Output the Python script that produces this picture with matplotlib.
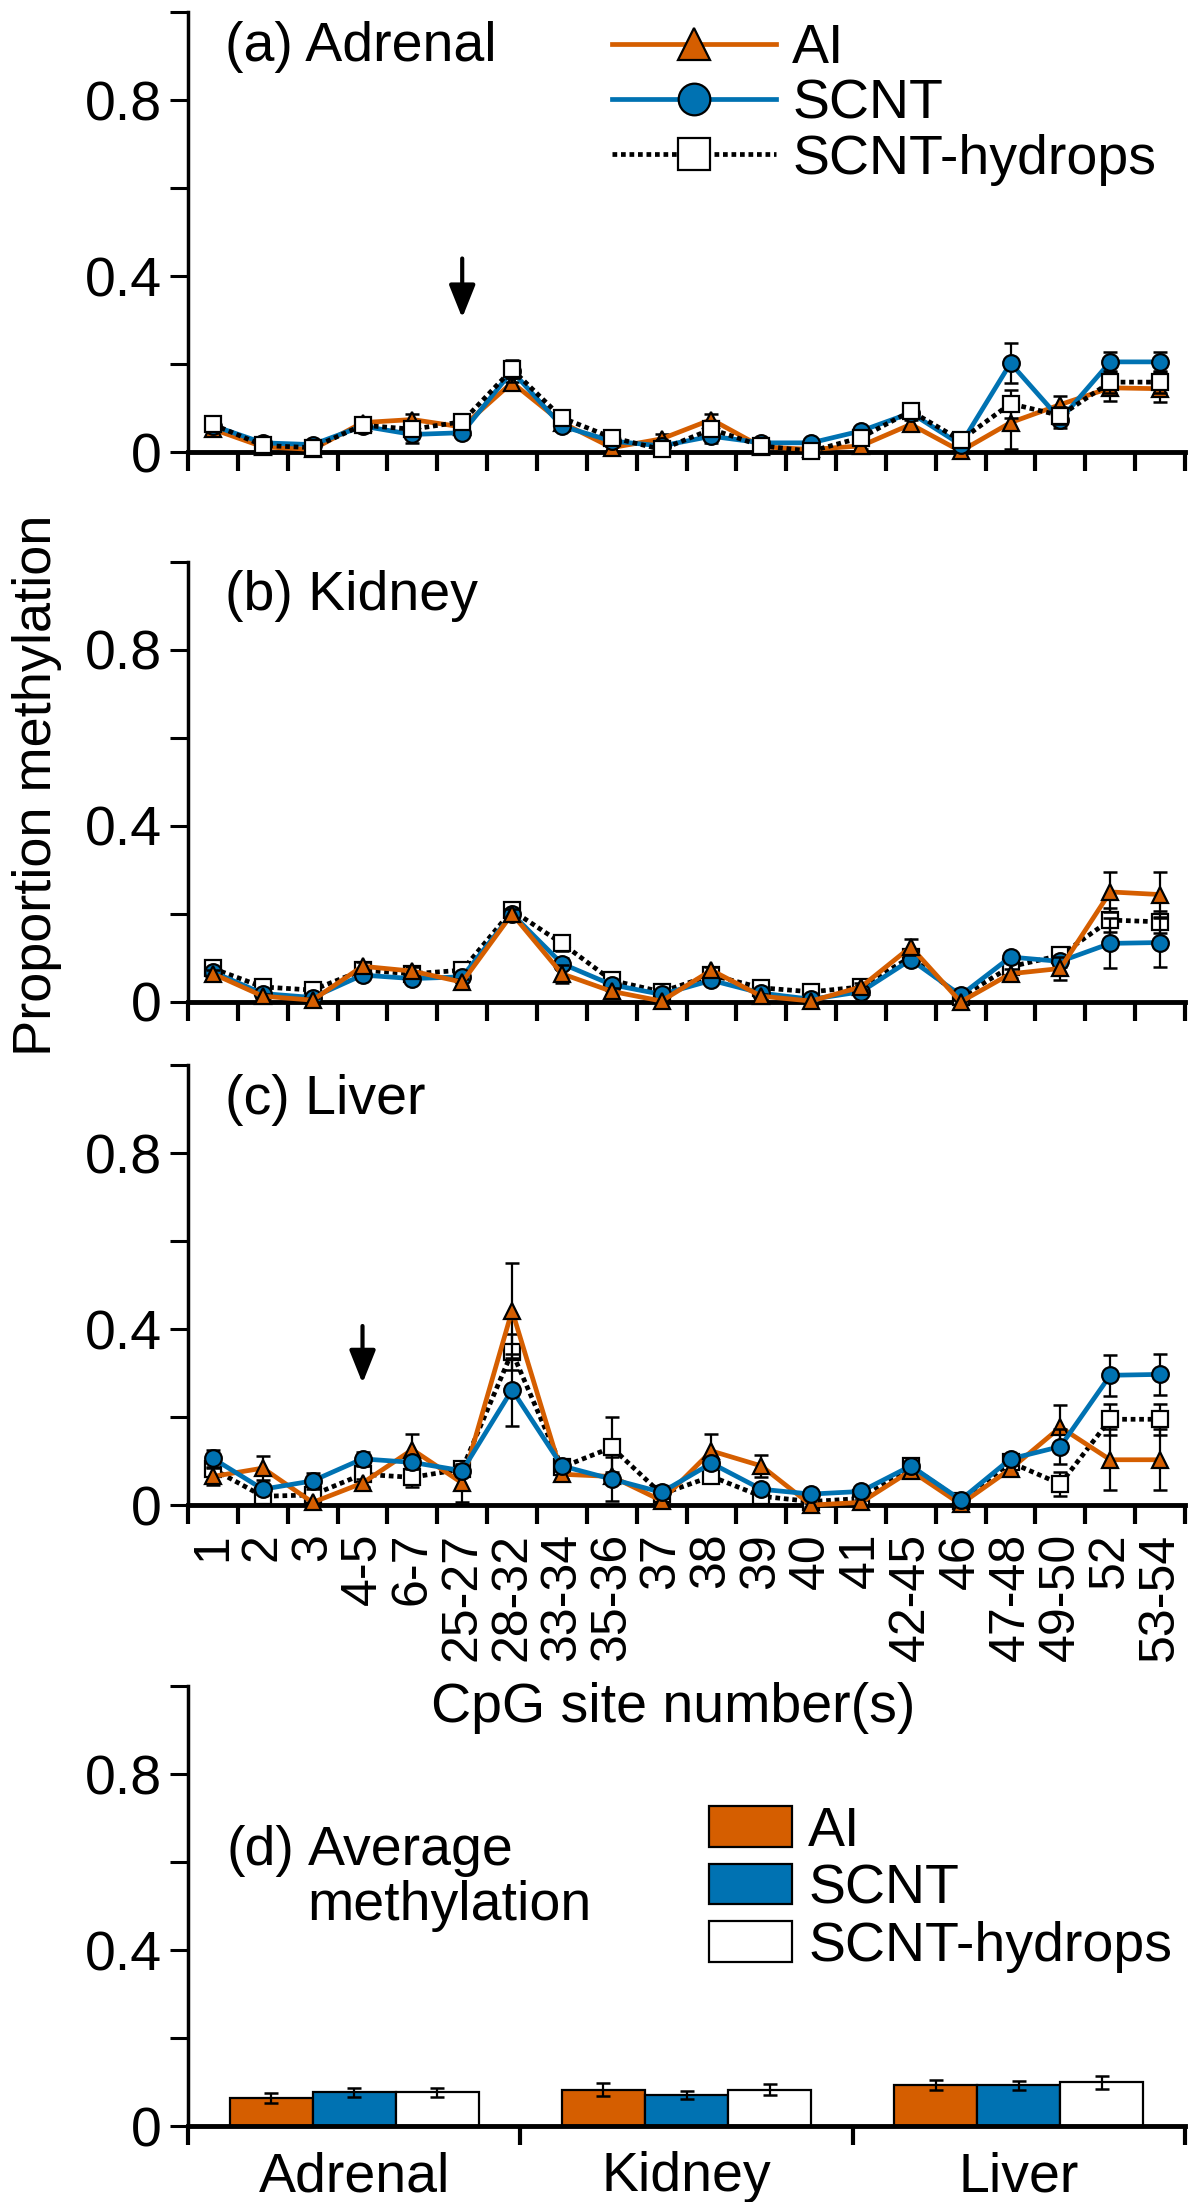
import matplotlib
matplotlib.use('Agg')
import matplotlib.pyplot as plt
import numpy as np

plt.rcParams['font.family'] = ['Liberation Sans', 'DejaVu Sans']

sites = ['1', '2', '3', '4-5', '6-7', '25-27', '28-32', '33-34', '35-36', '37',
         '38', '39', '40', '41', '42-45', '46', '47-48', '49-50', '52', '53-54']
groups = ['AI', 'SCNT', 'SCNT-hydrops']
tissues = ['Adrenal', 'Kidney', 'Liver']

# (a) adrenal
adr_ai = [0.052, 0.012, 0.006, 0.067, 0.074, 0.057, 0.158, 0.067, 0.010, 0.030,
          0.074, 0.012, 0.006, 0.014, 0.063, 0.002, 0.067, 0.108, 0.146, 0.144]
adr_ai_err = [0.008, 0.005, 0.005, 0.008, 0.012, 0.010, 0.015, 0.010, 0.008, 0.012,
              0.012, 0.005, 0.005, 0.008, 0.010, 0.005, 0.060, 0.020, 0.030, 0.030]
adr_scnt = [0.060, 0.021, 0.017, 0.059, 0.040, 0.044, 0.184, 0.059, 0.025, 0.014,
            0.036, 0.021, 0.021, 0.048, 0.089, 0.017, 0.202, 0.074, 0.205, 0.205]
adr_scnt_err = [0.008, 0.005, 0.005, 0.008, 0.020, 0.008, 0.025, 0.010, 0.008, 0.005,
                0.015, 0.005, 0.005, 0.008, 0.010, 0.005, 0.045, 0.020, 0.022, 0.022]
adr_hyd = [0.063, 0.015, 0.010, 0.061, 0.052, 0.069, 0.188, 0.078, 0.033, 0.006,
           0.052, 0.014, 0.002, 0.033, 0.093, 0.027, 0.110, 0.083, 0.159, 0.159]
adr_hyd_err = [0.008, 0.005, 0.005, 0.008, 0.015, 0.010, 0.020, 0.012, 0.008, 0.005,
               0.012, 0.005, 0.005, 0.008, 0.010, 0.008, 0.032, 0.020, 0.025, 0.025]

# (b) kidney
kid_ai = [0.064, 0.013, 0.004, 0.081, 0.070, 0.045, 0.200, 0.064, 0.024, 0.002,
          0.072, 0.013, 0.002, 0.034, 0.125, 0.000, 0.064, 0.076, 0.250, 0.244]
kid_ai_err = [0.008, 0.005, 0.005, 0.010, 0.010, 0.008, 0.012, 0.021, 0.008, 0.005,
              0.008, 0.005, 0.005, 0.008, 0.019, 0.005, 0.010, 0.027, 0.045, 0.051]
kid_scnt = [0.068, 0.019, 0.010, 0.061, 0.053, 0.057, 0.200, 0.087, 0.039, 0.017,
            0.049, 0.020, 0.006, 0.023, 0.096, 0.015, 0.102, 0.092, 0.133, 0.135]
kid_scnt_err = [0.008, 0.005, 0.005, 0.008, 0.008, 0.008, 0.012, 0.012, 0.008, 0.005,
                0.008, 0.005, 0.005, 0.008, 0.010, 0.005, 0.010, 0.012, 0.057, 0.055]
kid_hyd = [0.076, 0.034, 0.027, 0.072, 0.064, 0.072, 0.208, 0.133, 0.049, 0.023,
           0.061, 0.032, 0.023, 0.034, 0.102, 0.011, 0.080, 0.106, 0.186, 0.182]
kid_hyd_err = [0.008, 0.005, 0.005, 0.008, 0.008, 0.008, 0.012, 0.018, 0.008, 0.005,
               0.008, 0.005, 0.005, 0.008, 0.010, 0.005, 0.010, 0.012, 0.027, 0.025]

# (c) liver
liv_ai = [0.065, 0.084, 0.006, 0.050, 0.126, 0.050, 0.442, 0.070, 0.065, 0.010,
          0.123, 0.089, 0.000, 0.006, 0.078, 0.002, 0.082, 0.177, 0.103, 0.103]
liv_ai_err = [0.020, 0.028, 0.005, 0.010, 0.035, 0.044, 0.108, 0.010, 0.010, 0.005,
              0.038, 0.025, 0.005, 0.005, 0.010, 0.005, 0.010, 0.051, 0.069, 0.069]
liv_scnt = [0.106, 0.036, 0.055, 0.105, 0.097, 0.078, 0.262, 0.089, 0.059, 0.029,
            0.095, 0.036, 0.025, 0.031, 0.089, 0.012, 0.105, 0.133, 0.295, 0.297]
liv_scnt_err = [0.020, 0.010, 0.019, 0.016, 0.015, 0.012, 0.082, 0.012, 0.050, 0.008,
                0.012, 0.008, 0.005, 0.005, 0.008, 0.005, 0.010, 0.040, 0.046, 0.046]
liv_hyd = [0.082, 0.020, 0.023, 0.070, 0.063, 0.082, 0.348, 0.086, 0.131, 0.025,
           0.065, 0.020, 0.008, 0.015, 0.088, 0.010, 0.097, 0.048, 0.195, 0.195]
liv_hyd_err = [0.012, 0.008, 0.008, 0.012, 0.023, 0.012, 0.040, 0.012, 0.070, 0.008,
               0.010, 0.008, 0.005, 0.005, 0.008, 0.005, 0.010, 0.028, 0.035, 0.035]

# (d) averages per tissue
avg_ai = [0.064, 0.083, 0.094]
avg_ai_err = [0.012, 0.014, 0.011]
avg_scnt = [0.077, 0.070, 0.093]
avg_scnt_err = [0.010, 0.009, 0.010]
avg_hyd = [0.077, 0.083, 0.099]
avg_hyd_err = [0.010, 0.012, 0.014]

ORANGE = '#D55E00'
BLUE = '#0072B2'
FS = 40

styles = {
    'AI': dict(color=ORANGE, marker='^', mfc=ORANGE, ls='-'),
    'SCNT': dict(color=BLUE, marker='o', mfc=BLUE, ls='-'),
    'SCNT-hydrops': dict(color='black', marker='s', mfc='white', ls=(0, (1, 0.8))),
}


def style_axes(ax):
    ax.spines['top'].set_visible(False)
    ax.spines['right'].set_visible(False)
    ax.spines['left'].set_linewidth(2.5)
    ax.spines['bottom'].set_linewidth(3.5)
    ax.set_ylim(0, 1.0)
    ax.set_yticks(np.arange(0, 1.01, 0.2))
    ax.set_yticklabels(['0', '', '0.4', '', '0.8', ''])
    ax.tick_params(axis='y', which='major', direction='out', length=13, width=2.2,
                   labelsize=FS, pad=6)
    ax.tick_params(axis='x', which='major', direction='out', length=14, width=3,
                   labelbottom=False)


def line_panel(ax, series, label, order, arrow_at=None):
    x = np.arange(len(sites))
    handles = {}
    for z, name in enumerate(order):
        y, err = series[name]
        st = styles[name]
        ax.errorbar(x, y, yerr=err, fmt='none', ecolor='black', elinewidth=1.6,
                    capsize=5, capthick=1.8, zorder=2 + z, clip_on=False)
        ln, = ax.plot(x, y, ls=st['ls'], color=st['color'], lw=3.4,
                      marker=st['marker'], ms=12, mfc=st['mfc'], mec='black',
                      mew=1.6, zorder=3 + z, clip_on=False)
        handles[name] = ln
    ax.set_xlim(-0.5, len(sites) - 0.5)
    ax.set_xticks(np.arange(-0.5, len(sites)))
    ax.set_xticks(x, minor=True)
    ax.tick_params(axis='x', which='minor', length=0)
    style_axes(ax)
    ax.text(0.037, 0.89, label, transform=ax.transAxes, fontsize=FS, va='baseline')
    if arrow_at is not None:
        ax.annotate('', xy=(arrow_at[0], arrow_at[1]), xytext=(arrow_at[0], arrow_at[2]),
                    arrowprops=dict(arrowstyle='-|>,head_length=0.5,head_width=0.2',
                                    lw=3, color='black', mutation_scale=40,
                                    shrinkA=0, shrinkB=0))
    return handles


fig = plt.figure(figsize=(12, 22.02), dpi=100)
L, W, H = 0.1567, 0.8308, 0.1998
ax_a = fig.add_axes([L, 0.7947, W, H])
ax_b = fig.add_axes([L, 0.5450, W, H])
ax_c = fig.add_axes([L, 0.3165, W, H])
ax_d = fig.add_axes([L, 0.0345, W, H])

h = line_panel(ax_a, {'AI': (adr_ai, adr_ai_err), 'SCNT': (adr_scnt, adr_scnt_err),
                      'SCNT-hydrops': (adr_hyd, adr_hyd_err)},
               '(a) Adrenal', ['AI', 'SCNT', 'SCNT-hydrops'], arrow_at=(5, 0.305, 0.44))
line_panel(ax_b, {'AI': (kid_ai, kid_ai_err), 'SCNT': (kid_scnt, kid_scnt_err),
                  'SCNT-hydrops': (kid_hyd, kid_hyd_err)},
           '(b) Kidney', ['SCNT-hydrops', 'SCNT', 'AI'])
line_panel(ax_c, {'AI': (liv_ai, liv_ai_err), 'SCNT': (liv_scnt, liv_scnt_err),
                  'SCNT-hydrops': (liv_hyd, liv_hyd_err)},
           '(c) Liver', ['SCNT-hydrops', 'AI', 'SCNT'], arrow_at=(3, 0.277, 0.407))

ax_a.legend([h[g] for g in groups], groups, loc='upper left', bbox_to_anchor=(0.425, 0.975),
            frameon=False, fontsize=FS, handlelength=2.95, handletextpad=0.3,
            labelspacing=0.06, borderpad=0, borderaxespad=0, markerscale=1.9)

# site labels only under panel (c)
ax_c.tick_params(axis='x', which='minor', labelbottom=True, labelsize=36, pad=20)
ax_c.set_xticklabels(sites, minor=True, rotation=90, va='top', ha='center')

fig.text(0.561, 1 - 1722 / 2202, 'CpG site number(s)', fontsize=FS, ha='center',
         va='baseline')
fig.text(0.031, 1 - 785 / 2202, 'Proportion methylation', fontsize=39, rotation=90,
         ha='center', va='center')

# (d) average bars
xd = np.arange(len(tissues))
bw = 0.25
bar_sets = [(avg_ai, avg_ai_err, ORANGE), (avg_scnt, avg_scnt_err, BLUE),
            (avg_hyd, avg_hyd_err, 'white')]
for i, (vals, errs, col) in enumerate(bar_sets):
    ax_d.bar(xd + (i - 1) * bw, vals, bw, color=col, edgecolor='black', lw=1.6,
             yerr=errs, error_kw=dict(ecolor='black', elinewidth=1.6, capsize=5,
                                      capthick=1.8), label=groups[i])
ax_d.set_xlim(-0.5, 2.5)
ax_d.set_xticks([-0.5, 0.5, 1.5, 2.5])
ax_d.set_xticks(xd, minor=True)
style_axes(ax_d)
ax_d.tick_params(axis='x', which='minor', length=0, labelbottom=True, labelsize=FS, pad=18)
ax_d.set_xticklabels(tissues, minor=True)
ax_d.text(0.039, 0.593, '(d)', transform=ax_d.transAxes, fontsize=FS, va='baseline')
ax_d.text(0.120, 0.593, 'Average', transform=ax_d.transAxes, fontsize=FS, va='baseline')
ax_d.text(0.120, 0.468, 'methylation', transform=ax_d.transAxes, fontsize=FS,
          va='baseline')
ax_d.legend(loc='upper left', bbox_to_anchor=(0.523, 0.728), frameon=False, fontsize=FS,
            handlelength=1.48, handleheight=0.75, handletextpad=0.3, labelspacing=0.1,
            borderpad=0, borderaxespad=0)

fig.savefig('out.png', dpi=100)
